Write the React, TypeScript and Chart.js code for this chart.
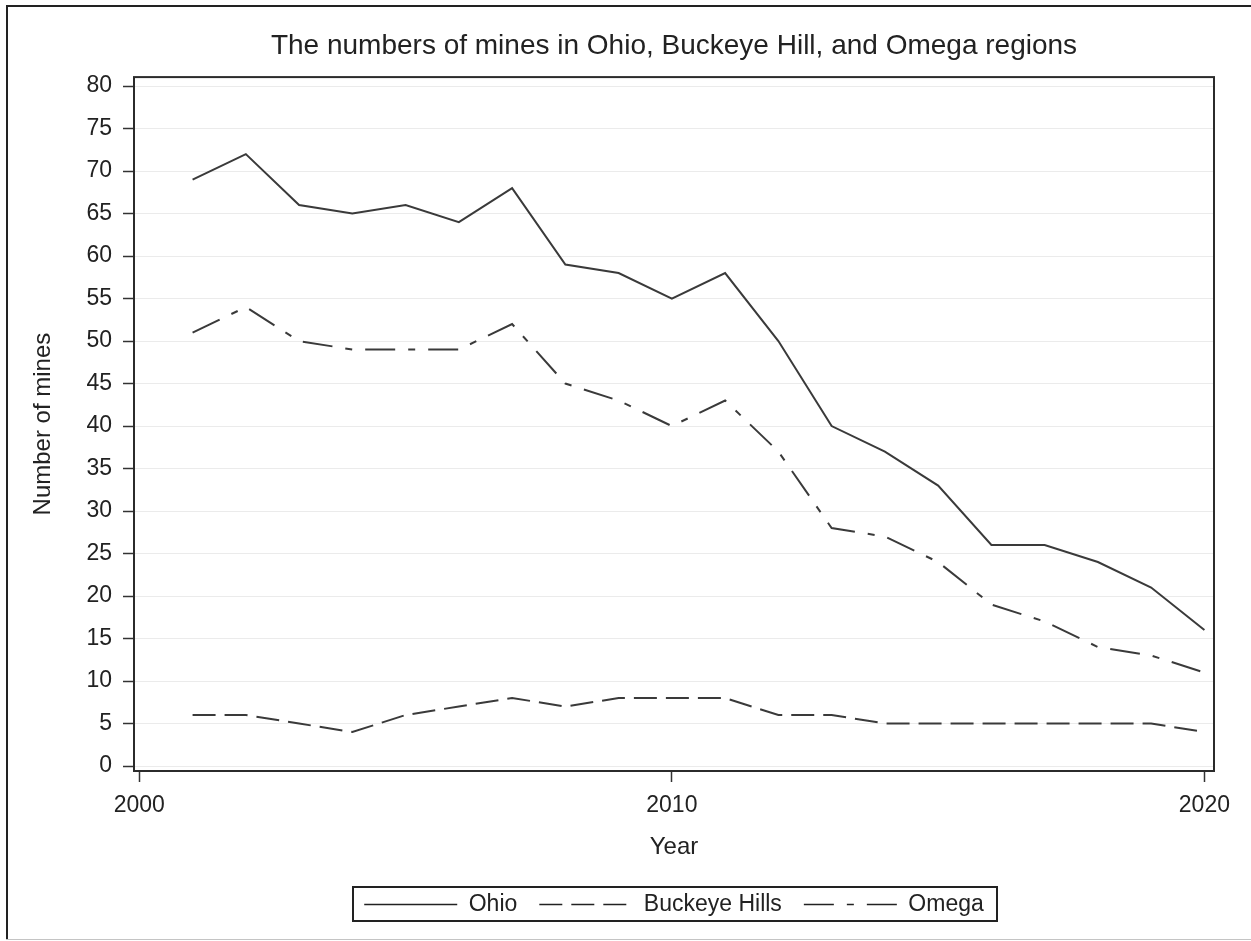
import React, { useEffect, useRef } from "react";
import { Chart, registerables } from "chart.js";

Chart.register(...registerables);

// ---- data ----
const YEARS = [2001, 2002, 2003, 2004, 2005, 2006, 2007, 2008, 2009, 2010, 2011, 2012, 2013, 2014, 2015, 2016, 2017, 2018, 2019, 2020];
const OHIO = [69, 72, 66, 65, 66, 64, 68, 59, 58, 55, 58, 50, 40, 37, 33, 26, 26, 24, 21, 16];
const BUCKEYE_HILLS = [6, 6, 5, 4, 6, 7, 8, 7, 8, 8, 8, 6, 6, 5, 5, 5, 5, 5, 5, 4];
const OMEGA = [51, 54, 50, 49, 49, 49, 52, 45, 43, 40, 43, 37, 28, 27, 24, 19, 17, 14, 13, 11];
const SERIES_NAMES = ["Ohio", "Buckeye Hills", "Omega"];
const X_TICKS = [2000, 2010, 2020];
const Y_TICKS = [0, 5, 10, 15, 20, 25, 30, 35, 40, 45, 50, 55, 60, 65, 70, 75, 80];
const TITLE = "The numbers of mines in Ohio, Buckeye Hill, and Omega regions";
const X_TITLE = "Year";
const Y_TITLE = "Number of mines";

const FONT = "'Liberation Sans', Arial, Helvetica, sans-serif";
const TEXT = "#222";
const LINE = "#3a3a3a";

const framePlugin = {
  id: "framePlugin",
  beforeDraw(chart: any) {
    const { ctx, width, height } = chart;
    ctx.save();
    ctx.fillStyle = "#fff";
    ctx.fillRect(0, 0, width, height);
    ctx.fillStyle = "#222";
    ctx.fillRect(6, 5, 2, 935);
    ctx.fillRect(6, 5, width - 6, 2);
    ctx.fillStyle = "#c4c4c4";
    ctx.fillRect(6, 939, width - 6, 1);
    ctx.restore();
  },
  afterDatasetsDraw(chart: any) {
    const { ctx, chartArea } = chart;
    ctx.save();
    ctx.strokeStyle = "#2b2b2b";
    ctx.lineWidth = 2;
    ctx.strokeRect(chartArea.left, chartArea.top, chartArea.right - chartArea.left, chartArea.bottom - chartArea.top);
    ctx.restore();
  },
  afterDraw(chart: any) {
    const lg = chart.legend;
    if (!lg || !lg.legendHitBoxes || !lg.legendHitBoxes.length) return;
    const hb = lg.legendHitBoxes;
    const first = hb[0];
    const last = hb[hb.length - 1];
    const cy = first.top + first.height / 2;
    const x0 = first.left - 11;
    const x1 = last.left + last.width + 13;
    const { ctx } = chart;
    ctx.save();
    ctx.strokeStyle = "#222";
    ctx.lineWidth = 2;
    ctx.strokeRect(Math.round(x0), Math.round(cy - 17.5), Math.round(x1 - x0), 34);
    ctx.restore();
  },
};

export default function App() {
  const ref = useRef<HTMLCanvasElement | null>(null);

  useEffect(() => {
    if (!ref.current) return;
    const mk = (vals: number[]) => YEARS.map((yr, i) => ({ x: yr, y: vals[i] }));
    const defaultLabels = (Chart as any).defaults.plugins.legend.labels.generateLabels;
    const chart = new Chart(ref.current, {
      type: "line",
      data: {
        datasets: [
          {
            label: SERIES_NAMES[0],
            data: mk(OHIO),
            borderColor: LINE,
            backgroundColor: LINE,
            borderWidth: 2,
            pointRadius: 0,
            tension: 0,
          },
          {
            label: SERIES_NAMES[1],
            data: mk(BUCKEYE_HILLS),
            borderColor: LINE,
            backgroundColor: LINE,
            borderWidth: 2,
            borderDash: [23, 9],
            pointRadius: 0,
            tension: 0,
          },
          {
            label: SERIES_NAMES[2],
            data: mk(OMEGA),
            borderColor: LINE,
            backgroundColor: LINE,
            borderWidth: 2,
            borderDash: [30, 13, 7, 13],
            pointRadius: 0,
            tension: 0,
          },
        ],
      },
      options: {
        responsive: false,
        animation: false,
        devicePixelRatio: 1,
        layout: { padding: { left: 0, right: 37, top: 0, bottom: 15 } },
        plugins: {
          title: {
            display: true,
            fullSize: false,
            text: TITLE,
            color: TEXT,
            font: { family: FONT, size: 28, weight: "normal" },
            padding: { top: 29.5, bottom: 14 },
          },
          legend: {
            display: true,
            position: "bottom",
            fullSize: false,
            labels: {
              usePointStyle: true,
              pointStyle: "line",
              pointStyleWidth: 93,
              boxHeight: 10,
              padding: 22,
              color: TEXT,
              font: { family: FONT, size: 23 },
              generateLabels: (ch: any) =>
                defaultLabels(ch).map((item: any) => ({
                  ...item,
                  pointStyle: "line",
                  lineWidth: 1.6,
                  strokeStyle: "#222",
                  lineDash: ch.data.datasets[item.datasetIndex].borderDash || [],
                })),
            },
          },
          tooltip: { enabled: false },
        },
        scales: {
          x: {
            type: "linear",
            min: 1999.9,
            max: 2020.18,
            afterBuildTicks: (s: any) => {
              s.ticks = X_TICKS.map((v) => ({ value: v }));
            },
            afterFit: (s: any) => {
              s.height = 100;
            },
            ticks: {
              color: TEXT,
              font: { family: FONT, size: 23 },
              padding: 10,
              maxRotation: 0,
              autoSkip: false,
              callback: (v: any) => String(v),
            },
            grid: {
              drawOnChartArea: false,
              tickLength: 11,
              tickColor: "#333",
              tickWidth: 1.5,
            },
            border: { display: false },
            title: {
              display: true,
              text: X_TITLE,
              color: TEXT,
              font: { family: FONT, size: 24 },
              padding: { top: 0, bottom: 9 },
            },
          },
          y: {
            type: "linear",
            min: -0.588,
            max: 81.059,
            afterBuildTicks: (s: any) => {
              s.ticks = Y_TICKS.map((v) => ({ value: v }));
            },
            afterFit: (s: any) => {
              s.width = 134;
            },
            ticks: {
              color: TEXT,
              font: { family: FONT, size: 23 },
              padding: 11,
              autoSkip: false,
              callback: (v: any) => String(v),
            },
            grid: {
              color: "#ebebeb",
              lineWidth: 1,
              tickLength: 11,
              tickColor: "#333",
              tickWidth: 1.5,
            },
            border: { display: false },
            title: {
              display: true,
              text: Y_TITLE,
              color: TEXT,
              font: { family: FONT, size: 24 },
              padding: { top: 29, bottom: 0 },
            },
          },
        },
      },
      plugins: [framePlugin],
    });
    return () => chart.destroy();
  }, []);

  return (
    <div style={{ position: "absolute", left: 0, top: 0, width: 1251, height: 941 }}>
      <canvas ref={ref} width={1251} height={941} style={{ width: 1251, height: 941, display: "block" }} />
    </div>
  );
}
